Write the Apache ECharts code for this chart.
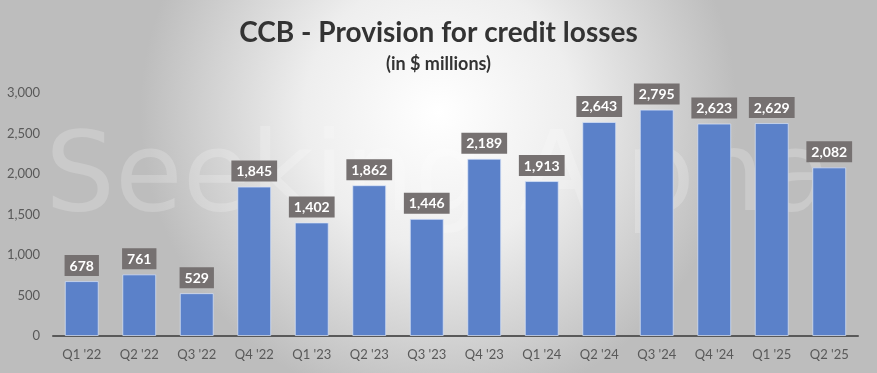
<!DOCTYPE html>
<html><head><meta charset="utf-8">
<script src="https://cdn.jsdelivr.net/npm/echarts@6/dist/echarts.min.js"></script>
<style>html,body{margin:0;padding:0;}#c{width:877px;height:373px;}</style>
</head><body><div id="c"></div>
<script>
const categories = ["Q1 '22","Q2 '22","Q3 '22","Q4 '22","Q1 '23","Q2 '23","Q3 '23","Q4 '23","Q1 '24","Q2 '24","Q3 '24","Q4 '24","Q1 '25","Q2 '25"];
const provision = [678, 761, 529, 1845, 1402, 1862, 1446, 2189, 1913, 2643, 2795, 2623, 2629, 2082];
const titleText = "CCB - Provision for credit losses";
const subtitleText = "(in $ millions)";

const fmt = v => v.toLocaleString('en-US');
const chart = echarts.init(document.getElementById('c'));
chart.setOption({
  backgroundColor: {type:'radial', x:0.5, y:0.3, r:0.8, colorStops:[{offset:0,color:'#ffffff'},{offset:0.45,color:'#eeeeee'},{offset:1,color:'#bdbdbd'}]},
  title: {
    text: titleText, subtext: subtitleText, left: 'center', top: 14, itemGap: 8,
    textStyle: {fontFamily:'Lato', fontWeight:'bold', fontSize:28, color:'#333333'},
    subtextStyle: {fontFamily:'Lato', fontWeight:'bold', fontSize:18, color:'#333333'}
  },
  graphic: [{type:'text', left:'center', top:126, silent:true, z:1,
    style:{text:'Seeking Alpha', font:'110px "DejaVu Sans"', fill:'rgba(255,255,255,0.2)'}}],
  grid: {left:53, right:19, top:93, bottom:37},
  xAxis: {
    type:'category', data:categories,
    axisLine:{lineStyle:{color:'#595959', width:2}},
    axisTick:{show:false},
    axisLabel:{color:'#595959', fontFamily:'Lato', fontSize:13, margin:12}
  },
  yAxis: {
    type:'value', min:0, max:3000, interval:500,
    splitLine:{show:false}, axisLine:{show:false}, axisTick:{show:false},
    axisLabel:{color:'#595959', fontFamily:'Lato', fontSize:13, margin:13, formatter: v => fmt(v)}
  },
  series: [{
    type:'bar', data:provision, barWidth:'59%', z:2,
    itemStyle:{color:'#5b81c9', borderColor:'rgba(220,230,250,0.7)', borderWidth:1},
    label:{show:true, position:'top', distance:5, formatter: p => fmt(p.value),
      backgroundColor:'#767171', color:'#ffffff', fontWeight:'bold', fontFamily:'Lato', fontSize:14,
      padding:[4,5,3,5]}
  }]
});
</script></body></html>
